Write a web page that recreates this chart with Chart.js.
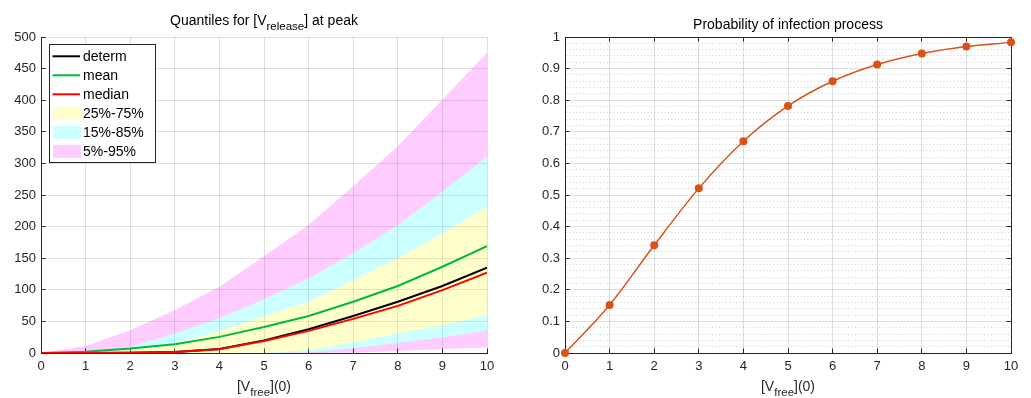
<!DOCTYPE html>
<html>
<head>
<meta charset="utf-8">
<script src="https://cdn.jsdelivr.net/npm/chart.js@4.4.1/dist/chart.umd.min.js"></script>
<style>
  html, body { margin: 0; padding: 0; background: #fff; overflow: hidden; }
  #wrap { position: relative; width: 1031px; height: 398px; }
  canvas { position: absolute; top: 0; }
  #quantiles { left: 0; }
  #probability { left: 515px; }
</style>
</head>
<body>
<div id="wrap">
  <canvas id="quantiles" width="515" height="398"></canvas>
  <canvas id="probability" width="516" height="398"></canvas>
</div>
<script>
// Initial free virus amount [V_free](0)
const vFree0 = [0, 1, 2, 3, 4, 5, 6, 7, 8, 9, 10];

// Peak [V_release]: deterministic run and stochastic statistics
const determ = [0, 0, 0.2, 1.5, 6.5, 20, 37.5, 58.5, 81, 106, 135];
const meanV  = [0, 1.8, 7, 14, 25.5, 41, 58.5, 81, 106, 136.5, 169];
const median = [0, 0, 0.2, 1.5, 6, 19, 35, 54, 74.5, 99.5, 127];
const q95 = [0, 11, 36, 68, 105, 153, 203, 264, 327, 401, 475];
const q85 = [0, 2, 10, 31, 55, 85, 118, 158, 202, 255, 311];
const q75 = [0, 0.5, 5, 15, 34, 58, 81, 115.5, 150, 189, 232];
const q25 = [0, 0, 0, 0, 0, 0.5, 4.5, 16.5, 31, 44.5, 60];
const q15 = [0, 0, 0, 0, 0, 0, 1, 7.5, 16, 25, 35.5];
const q05 = [0, 0, 0, 0, 0, 0, 0, 0.5, 3, 6.5, 8.6];

// Probability that an infection takes hold
const pInfection = [0, 0.152, 0.341, 0.521, 0.670, 0.782, 0.860, 0.913, 0.948, 0.970, 0.983];

// Axis ticks
const xTicks = [0, 1, 2, 3, 4, 5, 6, 7, 8, 9, 10];
const quantYTicks = [0, 50, 100, 150, 200, 250, 300, 350, 400, 450, 500];
const probYTicks = [0, 0.1, 0.2, 0.3, 0.4, 0.5, 0.6, 0.7, 0.8, 0.9, 1];

const FONT = "'Liberation Sans', Arial, Helvetica, sans-serif";
const AXIS = '#262626';
const GRID = 'rgba(38,38,38,0.15)';
const MAGENTA = 'rgba(255,0,255,0.2)';
const CYAN = 'rgba(0,255,255,0.2)';
const YELLOW = 'rgba(255,255,0,0.2)';

const pts = arr => vFree0.map((x, i) => ({ x, y: arr[i] }));
const setTicks = list => scale => { scale.ticks = list.map(v => ({ value: v })); };
const align = p => Math.round(p - 0.5) + 0.5;

// Text with an optional subscript run, centred on cx
function drawRich(ctx, parts, cx, baseline, size, subSize, subDrop, color) {
  ctx.save();
  ctx.fillStyle = color;
  ctx.textBaseline = 'alphabetic';
  ctx.textAlign = 'left';
  let total = 0;
  const widths = parts.map(p => {
    ctx.font = (p.sub ? subSize : size) + 'px ' + FONT;
    const w = ctx.measureText(p.t).width;
    total += w;
    return w;
  });
  let x = cx - total / 2;
  parts.forEach((p, i) => {
    ctx.font = (p.sub ? subSize : size) + 'px ' + FONT;
    ctx.fillText(p.t, x, baseline + (p.sub ? subDrop : 0));
    x += widths[i];
  });
  ctx.restore();
}

// Title above and axis label below the plot area
const richTexts = {
  id: 'richTexts',
  afterDraw(chart, args, o) {
    const { ctx, chartArea: a } = chart;
    const cx = (a.left + a.right) / 2;
    drawRich(ctx, o.title, cx, o.titleBaseline, 14, 11.5, 4.5, '#000');
    drawRich(ctx, o.xlabel, cx, o.labelBaseline, 14, 11.5, 5.5, AXIS);
  }
};

// Inward tick marks, optional box and optional dotted minor y grid
const axesDecor = {
  id: 'axesDecor',
  beforeDatasetsDraw(chart, args, o) {
    const { ctx, chartArea: a, scales: { x, y } } = chart;
    ctx.save();
    if (o.minorY) {
      ctx.strokeStyle = 'rgba(38,38,38,0.22)';
      ctx.lineWidth = 1;
      ctx.setLineDash([1, 2.4]);
      ctx.beginPath();
      for (let i = 0; i < y.ticks.length - 1; i++) {
        const v0 = y.ticks[i].value, v1 = y.ticks[i + 1].value;
        for (let k = 1; k < o.minorY; k++) {
          const p = align(y.getPixelForValue(v0 + (v1 - v0) * k / o.minorY));
          ctx.moveTo(a.left + 1, p);
          ctx.lineTo(a.right, p);
        }
      }
      ctx.stroke();
      ctx.setLineDash([]);
    }
    const len = 4.5;
    ctx.strokeStyle = AXIS;
    ctx.lineWidth = 1;
    ctx.beginPath();
    x.ticks.forEach(t => {
      const p = align(x.getPixelForValue(t.value));
      ctx.moveTo(p, a.bottom); ctx.lineTo(p, a.bottom - len);
      if (o.box) { ctx.moveTo(p, a.top); ctx.lineTo(p, a.top + len); }
    });
    y.ticks.forEach(t => {
      const p = align(y.getPixelForValue(t.value));
      ctx.moveTo(a.left, p); ctx.lineTo(a.left + len, p);
      if (o.box) { ctx.moveTo(a.right, p); ctx.lineTo(a.right - len, p); }
    });
    if (o.box) {
      const t = align(a.top), r = align(a.right);
      ctx.moveTo(a.left, t); ctx.lineTo(r, t);
      ctx.moveTo(r, t); ctx.lineTo(r, a.bottom);
    }
    ctx.stroke();
    ctx.restore();
  }
};

// Boxed legend inside the plot, built from the dataset labels
const insetLegend = {
  id: 'insetLegend',
  afterDatasetsDraw(chart, args, o) {
    const { ctx } = chart;
    const items = chart.data.datasets.filter(d => d.legendKind)
      .sort((p, q) => p.legendRank - q.legendRank);
    ctx.save();
    ctx.fillStyle = '#fff';
    ctx.fillRect(o.x, o.y, o.w, o.h);
    ctx.strokeStyle = AXIS;
    ctx.lineWidth = 1;
    ctx.strokeRect(align(o.x), align(o.y), Math.round(o.w), Math.round(o.h));
    ctx.font = '14px ' + FONT;
    ctx.textBaseline = 'middle';
    ctx.textAlign = 'left';
    items.forEach((d, i) => {
      const cy = o.y + o.firstRow + i * o.rowGap;
      if (d.legendKind === 'line') {
        ctx.strokeStyle = d.borderColor;
        ctx.lineWidth = 2;
        ctx.beginPath();
        ctx.moveTo(o.x + 3.5, cy); ctx.lineTo(o.x + 31, cy);
        ctx.stroke();
      } else {
        ctx.fillStyle = d.backgroundColor;
        ctx.fillRect(o.x + 4, cy - 6.5, 28, 13);
      }
      ctx.fillStyle = '#000';
      ctx.fillText(d.label, o.x + 34, cy + 0.5);
    });
    ctx.restore();
  }
};

const lineSet = (label, arr, color, rank) => ({
  label, data: pts(arr), borderColor: color, borderWidth: 2,
  pointRadius: 0, tension: 0, fill: false, legendKind: 'line', legendRank: rank
});
const bandSet = (label, arr, color, fill, rank) => ({
  label, data: pts(arr), borderColor: 'rgba(0,0,0,0)', borderWidth: 0,
  backgroundColor: color, pointRadius: 0, tension: 0, fill,
  legendKind: rank ? 'box' : null, legendRank: rank
});

function axisOptions(ticks, min, max, width) {
  return {
    x: {
      type: 'linear', min: 0, max: 10,
      afterBuildTicks: setTicks(xTicks),
      afterFit: s => { s.height = 45; },
      grid: { color: GRID, lineWidth: 1, drawTicks: false },
      border: { display: true, color: AXIS, width: 1 },
      ticks: { color: AXIS, font: { family: FONT, size: 13 }, padding: 6, maxRotation: 0,
               callback: v => String(v) }
    },
    y: {
      type: 'linear', min, max,
      afterBuildTicks: setTicks(ticks),
      afterFit: s => { s.width = width; },
      grid: { color: GRID, lineWidth: 1, drawTicks: false },
      border: { display: true, color: AXIS, width: 1 },
      ticks: { color: AXIS, font: { family: FONT, size: 13 }, padding: 5,
               callback: v => String(v) }
    }
  };
}

new Chart(document.getElementById('quantiles'), {
  type: 'line',
  data: {
    datasets: [
      lineSet('median', median, '#ff0000', 3),
      lineSet('mean', meanV, 'rgb(0,185,64)', 2),
      lineSet('determ', determ, '#000000', 1),
      bandSet('5%-95%', q95, MAGENTA, '+1', 6),
      bandSet('15%-85%', q85, CYAN, '+1', 5),
      bandSet('25%-75%', q75, YELLOW, '+1', 4),
      bandSet('q25', q25, CYAN, '+1', 0),
      bandSet('q15', q15, MAGENTA, '+1', 0),
      bandSet('q05', q05, 'rgba(0,0,0,0)', false, 0)
    ]
  },
  options: {
    responsive: false, animation: false, events: [],
    layout: { padding: { top: 37, right: 28, left: 0, bottom: 0 } },
    scales: axisOptions(quantYTicks, 0, 500, 41),
    plugins: {
      legend: { display: false }, tooltip: { enabled: false },
      richTexts: {
        title: [{ t: 'Quantiles for [V' }, { t: 'release', sub: true }, { t: '] at peak' }],
        titleBaseline: 25,
        xlabel: [{ t: '[V' }, { t: 'free', sub: true }, { t: '](0)' }],
        labelBaseline: 390.5
      },
      axesDecor: { box: false, minorY: 0 },
      insetLegend: { x: 49, y: 44, w: 106, h: 118, firstRow: 12.3, rowGap: 19 }
    }
  },
  plugins: [axesDecor, insetLegend, richTexts]
});

new Chart(document.getElementById('probability'), {
  type: 'line',
  data: {
    datasets: [{
      label: 'P(infection)', data: pts(pInfection),
      borderColor: '#D95319', backgroundColor: '#D95319', borderWidth: 1.5,
      pointRadius: 4, pointBorderWidth: 0, pointBackgroundColor: '#D95319',
      cubicInterpolationMode: 'monotone', fill: false, clip: false
    }]
  },
  options: {
    responsive: false, animation: false, events: [],
    layout: { padding: { top: 37, right: 20, left: 0, bottom: 0 } },
    scales: axisOptions(probYTicks, 0, 1, 50),
    plugins: {
      legend: { display: false }, tooltip: { enabled: false },
      richTexts: {
        title: [{ t: 'Probability of infection process' }],
        titleBaseline: 29,
        xlabel: [{ t: '[V' }, { t: 'free', sub: true }, { t: '](0)' }],
        labelBaseline: 390.5
      },
      axesDecor: { box: true, minorY: 5 }
    }
  },
  plugins: [axesDecor, richTexts]
});
</script>
</body>
</html>
